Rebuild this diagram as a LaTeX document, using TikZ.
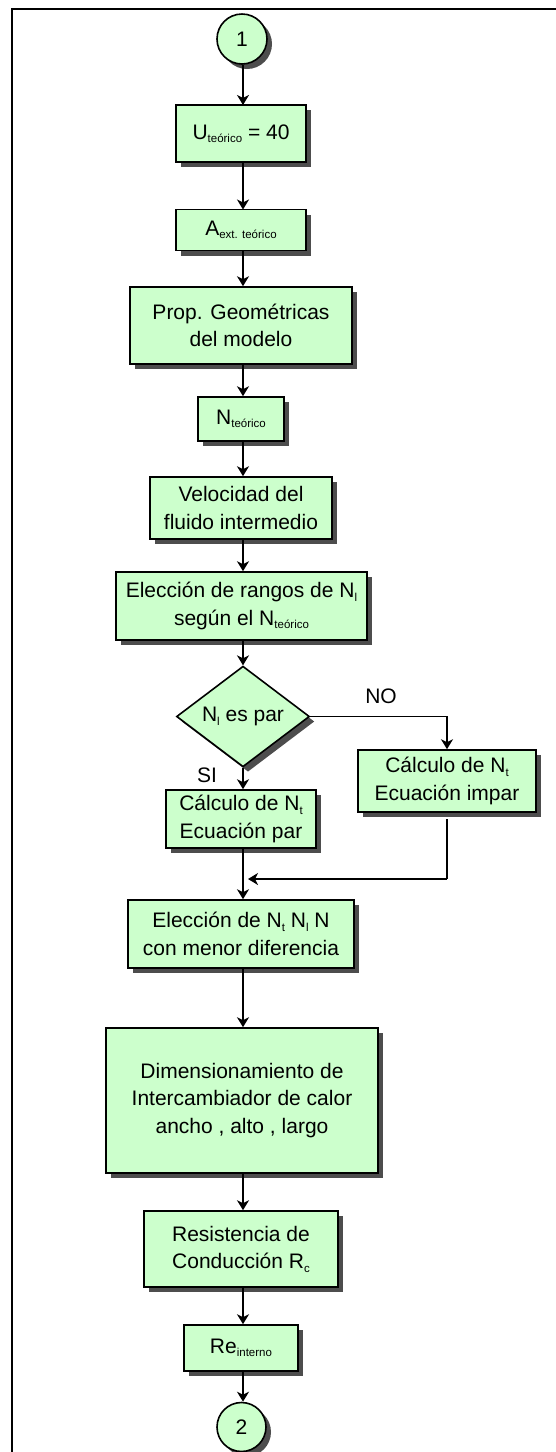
\documentclass[tikz,border=0pt]{standalone}
\usepackage{fontspec}
\setmainfont{Liberation Sans}
\usetikzlibrary{shapes.geometric,shadows,arrows.meta}
\newcommand{\lsub}[1]{\raisebox{-3.5pt}{\fontsize{11.5}{11.5}\selectfont #1}}
\definecolor{boxgreen}{RGB}{204,255,204}
\definecolor{shadowgray}{RGB}{77,77,77}
\tikzset{
  shad/.style={drop shadow={shadow xshift=5pt, shadow yshift=-5pt, fill=shadowgray, opacity=1}},
  procbox/.style={rectangle, draw=black, line width=1.6pt, fill=boxgreen, shad, inner sep=0pt, align=center,
    font=\fontsize{21}{27.5}\selectfont},
  conn/.style={circle, draw=black, line width=1.6pt, fill=boxgreen, shad, inner sep=0pt, minimum size=50pt,
    font=\fontsize{21}{24}\selectfont},
  decis/.style={diamond, draw=black, line width=1.6pt, fill=boxgreen, shad, inner sep=0pt,
    minimum width=133pt, minimum height=81pt, font=\fontsize{21}{24}\selectfont},
  arr/.style={-{Stealth[length=10pt,width=12pt,inset=3pt]}, line width=1.6pt},
  plain/.style={line width=1.6pt},
  lbl/.style={font=\fontsize{21}{24}\selectfont, inner sep=0pt}
}
\begin{document}
\begin{tikzpicture}[x=1pt,y=-1pt]
\useasboundingbox (0,0) rectangle (555,1452);
% frame
\draw[line width=2pt] (11.5,1460) -- (11.5,8.5) -- (560,8.5);

\node[conn] (c1) at (242,39) {1};
\node[procbox, minimum width=130pt, minimum height=57pt] (u) at (241,133.5) {U\lsub{teórico} = 40};
\node[procbox, minimum width=130pt, minimum height=41pt] (a) at (241,230) {A\lsub{ext. teórico}};
\node[procbox, minimum width=222pt, minimum height=77pt] (prop) at (241,325.5) {Prop. Geométricas\\del modelo};
\node[procbox, minimum width=86pt, minimum height=44pt] (nt) at (241,419) {N\lsub{teórico}};
\node[procbox, minimum width=182pt, minimum height=62pt] (vel) at (241,508) {Velocidad del\\fluido intermedio};
\node[procbox, minimum width=251pt, minimum height=68pt] (rang) at (241.5,606) {Elección de rangos de N\lsub{l}\\según el N\lsub{teórico}};
\node[decis] (dia) at (243,716.5) {N\lsub{l} es par};
\node[procbox, minimum width=150pt, minimum height=58pt] (par) at (241,819) {Cálculo de N\lsub{t}\\Ecuación par};
\node[procbox, minimum width=178pt, minimum height=62pt] (impar) at (447,781) {Cálculo de N\lsub{t}\\Ecuación impar};
\node[procbox, minimum width=226pt, minimum height=68pt] (elec) at (241,934) {Elección de N\lsub{t} N\lsub{l} N\\con menor diferencia};
\node[procbox, minimum width=272pt, minimum height=145pt] (dim) at (242,1100.5) {Dimensionamiento de\\Intercambiador de calor\\ancho , alto , largo};
\node[procbox, minimum width=194pt, minimum height=76pt] (res) at (241,1249) {Resistencia de\\Conducción R\lsub{c}};
\node[procbox, minimum width=114pt, minimum height=46pt] (re) at (241,1348) {Re\lsub{interno}};
\node[conn, minimum size=49pt] (c2) at (241.5,1427) {2};

\node[lbl] (si) at (207,775) {SI};
\node[lbl] (no) at (381,696) {NO};

\coordinate (m) at (248,879);
\coordinate (mr) at (447,879);
\coordinate (ib) at (447,819);

\draw[arr] (c1.south -| 243,0) -- (243,105);
\draw[arr] (243,162) -- (243,209.5);
\draw[arr] (243,250.5) -- (prop.north -| 243,0);
\draw[arr] (243,364) -- (nt.north -| 243,0);
\draw[arr] (243,441) -- (vel.north -| 243,0);
\draw[arr] (243,539) -- (rang.north -| 243,0);
\draw[arr] (243,640) -- (dia.north);
\draw[arr] (dia.south) -- (par.north -| 243,0);
\draw[arr] (dia.east) -| (impar.north);
\draw[plain] (ib) -- (mr);
\draw[arr] (mr) -- (m);
\draw[arr] (243,848) -- (elec.north -| 243,0);
\draw[arr] (243,968) -- (dim.north -| 243,0);
\draw[arr] (243,1173) -- (res.north -| 243,0);
\draw[arr] (243,1287) -- (re.north -| 243,0);
\draw[arr] (243,1371) -- (c2.north -| 243,0);
\end{tikzpicture}
\end{document}
